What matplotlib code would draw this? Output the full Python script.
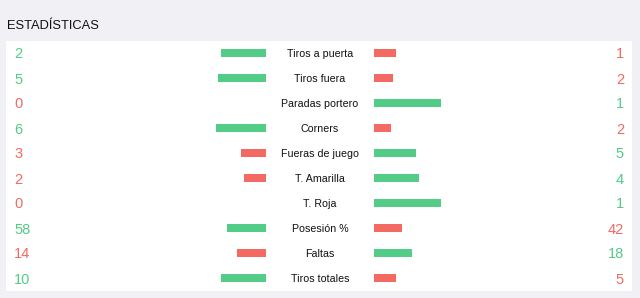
import numpy as np
import matplotlib.pyplot as plt
from matplotlib.patches import Rectangle

plt.rcParams['font.family'] = ['Liberation Sans', 'DejaVu Sans']

labels = ["Tiros a puerta", "Tiros fuera", "Paradas portero", "Corners",
          "Fueras de juego", "T. Amarilla", "T. Roja", "Posesión %",
          "Faltas", "Tiros totales"]
home = [2, 5, 0, 6, 3, 2, 0, 58, 14, 10]
away = [1, 2, 1, 2, 5, 4, 1, 42, 18, 5]

green = "#52cc87"
red = "#f26a62"
bg = "#f0f0f5"

fig = plt.figure(figsize=(6.4, 2.98), dpi=100, facecolor=bg)
ax = fig.add_axes([0, 0, 1, 1])
ax.set_xlim(0, 640)
ax.set_ylim(298, 0)
ax.axis("off")

# card
ax.add_patch(Rectangle((6, 40.5), 626, 250, facecolor="white", edgecolor="none"))
ax.text(7, 24.5, "ESTADÍSTICAS", fontsize=9.3, va="center_baseline", ha="left", color="#111111")

home = np.array(home, dtype=float)
away = np.array(away, dtype=float)
total = home + away
share_h = home / total
share_a = away / total
y = 53 + 25 * np.arange(len(labels))

max_len = 67
center_l, center_r = 266, 374
col_h = [green if h > a else red for h, a in zip(home, away)]
col_a = [green if a > h else red for h, a in zip(home, away)]

ax.barh(y, -share_h * max_len, left=center_l, height=8.5, color=col_h)
ax.barh(y, share_a * max_len, left=center_r, height=8.5, color=col_a)

for yi, lab, h, a, ch, ca in zip(y, labels, home, away, col_h, col_a):
    ax.text(320, yi, lab, fontsize=7.7, ha="center", va="center_baseline", color="#111111")
    ax.text(14, yi, f"{int(h)}", fontsize=10.5, ha="left", va="center_baseline", color=ch)
    ax.text(624, yi, f"{int(a)}", fontsize=10.5, ha="right", va="center_baseline", color=ca)

fig.savefig("out.png", dpi=100, facecolor=bg)
